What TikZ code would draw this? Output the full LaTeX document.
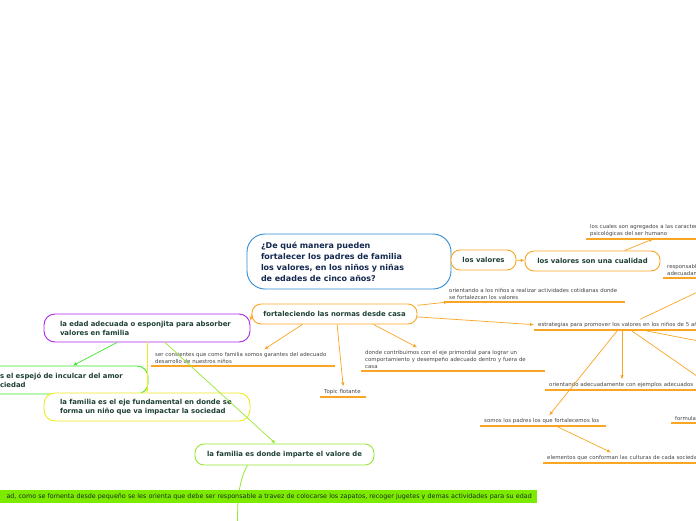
\documentclass[tikz,border=0pt]{standalone}
\usepackage{fontspec}
\setmainfont{DejaVu Sans}
\usetikzlibrary{arrows.meta,calc}
\definecolor{mmorange}{RGB}{250,165,35}
\definecolor{mmblue}{RGB}{50,140,210}
\definecolor{mmpurple}{RGB}{170,40,230}
\definecolor{mmgreen}{RGB}{60,230,40}
\definecolor{mmyellow}{RGB}{240,235,30}
\definecolor{mmlime}{RGB}{150,232,50}
\definecolor{mmbar}{RGB}{125,235,0}
\definecolor{mmtext}{RGB}{30,65,50}
\definecolor{mmnavy}{RGB}{20,40,80}
\definecolor{mmgray}{RGB}{70,70,70}
\tikzset{
mmnode/.style={rectangle,rounded corners=9pt,draw,line width=0.9pt,fill=white,align=center,inner sep=0pt,text=mmtext,font=\fontsize{6.9}{9}\selectfont\bfseries},
mmroot/.style={mmnode,draw=mmblue,rounded corners=18pt,align=left,text=mmnavy,inner xsep=14pt,text width=176pt,minimum width=204pt,minimum height=55pt,font=\fontsize{8}{11}\selectfont\bfseries},
mmleft/.style={mmnode,rounded corners=11pt,align=left,inner xsep=16pt,minimum height=28pt},
mmbarbox/.style={rectangle,fill=mmbar,anchor=east,align=right,text width=600pt,inner xsep=5pt,inner ysep=0pt,minimum height=13pt,text=mmtext!70!black,font=\fontsize{6.38}{8}\selectfont},
uline/.style={draw=mmorange,line width=1.6pt},
mmsub/.style={rectangle,anchor=south west,align=left,inner xsep=4pt,inner ysep=2.5pt,text=mmgray,font=\fontsize{5.4}{7}\selectfont,
  append after command={(\tikzlastnode.south west) edge[uline] (\tikzlastnode.south east)}},
mmarr/.style={-{Latex[length=4pt,width=3.5pt]},line width=0.7pt,draw=mmorange},
mmcurve/.style={line width=0.8pt,draw=mmlime}
}
\begin{document}
\begin{tikzpicture}[x=1pt,y=-1pt]
\useasboundingbox (0,0) rectangle (696,520);
\clip (0,0) rectangle (696,520);
\fill[white] (0,0) rectangle (696,520);

% main topics
\node[mmroot] (pregunta) at (349,261.5) {¿De qué manera pueden\\fortalecer los padres de familia\\los valores, en los niños y niñas\\de edades de cinco años?};
\node[mmnode,draw=mmorange,minimum width=65pt,minimum height=20pt] (valores) at (483.5,260) {los valores};
\node[mmnode,draw=mmorange,minimum width=135pt,minimum height=20pt] (cualidad) at (592.5,261) {los valores son una cualidad};
\node[mmnode,draw=mmorange,minimum width=165pt,minimum height=20pt] (normas) at (334.5,314) {fortaleciendo las normas desde casa};
\node[mmleft,draw=mmpurple,text width=174pt] (edad) at (147,328) {la edad adecuada o esponjita para absorber\\valores en familia};
\node[mmleft,draw=mmgreen,text width=132pt] (espejo) at (66,380) {s el espejó de inculcar del amor\\ciedad};
\node[mmleft,draw=mmyellow,text width=174pt] (eje) at (147,407) {la familia es el eje fundamental en donde se\\forma un niño que va impactar la sociedad};
\node[mmnode,draw=mmlime,minimum width=179pt,minimum height=21pt] (imparte) at (284.5,454.5) {la familia es donde imparte el valore de};

% curve behind the bar
\coordinate (abajo) at (239,545);
\draw[mmcurve] ($(imparte.south)+(-37,0)$) .. controls (240,478) and (235,500) .. (abajo);
\node[mmbarbox] (edadbar) at (537,496.5) {ad, como se fomenta desde pequeño se les orienta que debe ser responsable a travez de colocarse los zapatos, recoger jugetes y demas actividades para su edad};

% subtopics
\node[mmsub,text width=200pt] (cuales) at (586,239) {los cuales son agregados a las características\\psicológicas del ser humano};
\node[mmsub,text width=100pt] (respons) at (663,278) {responsables\\adecuadamente};
\node[mmsub,text width=172pt] (orient) at (445,302) {orientando a los niños a realizar actividades cotidianas donde\\se fortalezcan los valores};
\node[mmsub,text width=200pt] (estr) at (534,330) {estrategias para promover los valores en los niños de 5 años};
\node[mmsub,text width=176pt] (cons) at (151,366) {ser consientes que como familia somos garantes del adecuado\\desarrollo de nuestros niños};
\node[mmsub,text width=38pt] (flot) at (320,397) {Topic flotante};
\node[mmsub,text width=176pt] (contrib) at (361,371) {donde contribuimos con el eje primordial para lograr un\\comportamiento y desempeño adecuado dentro y fuera de\\casa};
\node[mmsub,text width=200pt] (orade) at (545,390) {orientando adecuadamente con ejemplos adecuados};
\node[mmsub,text width=118pt] (somos) at (480,426) {somos los padres los que fortalecemos los};
\node[mmsub,text width=100pt] (formula) at (671,423) {formula};
\node[mmsub,text width=200pt] (elem) at (543,463) {elementos que conforman las culturas de cada sociedad};

\coordinate (offtop) at (740,272);
\coordinate (offright1) at (740,406);
\coordinate (offright2) at (740,349);

% connectors
\draw[mmarr] (valores) -- (cualidad);
\draw[mmarr] (cualidad.18) -- ($(cuales.south west)+(67,0)$);
\draw[mmarr] (normas.6) -- ($(orient.south west)+(3,0)$);
\draw[mmarr] (normas.-2) -- (estr.west);
\draw[mmarr] (normas.west) -- (edad.4);
\draw[mmarr] (normas.198) -- ($(cons.north)+(21,0)$);
\draw[mmarr] (normas.-76) -- (flot.north);
\draw[mmarr] (normas.-15) -- ($(contrib.north)+(-36,0)$);
\draw[mmarr] ($(estr.north west)+(106,0)$) -- (offtop);
\draw[mmarr] ($(estr.south west)+(83,1)$) -- ($(somos.north)+(6,0)$);
\draw[mmarr] ($(estr.south west)+(88,1)$) -- ($(orade.north west)+(77,0)$);
\draw[mmarr] ($(estr.south west)+(98,1)$) -- (offright1);
\draw[mmarr] ($(estr.south west)+(113,1)$) -- (offright2);
\draw[mmarr] ($(somos.south west)+(78,1)$) -- ($(elem.north west)+(68,0)$);
\draw[mmarr,draw=mmgreen] ($(edad.south)+(-30,0)$) -- ($(espejo.north)+(7,0)$);
\draw[mmarr,draw=mmyellow] (edad.south) -- (eje.north);
\draw[mmarr,draw=mmlime] ($(edad.south)+(18,0)$) -- ($(imparte.north)+(-9,0)$);
\end{tikzpicture}
\end{document}
